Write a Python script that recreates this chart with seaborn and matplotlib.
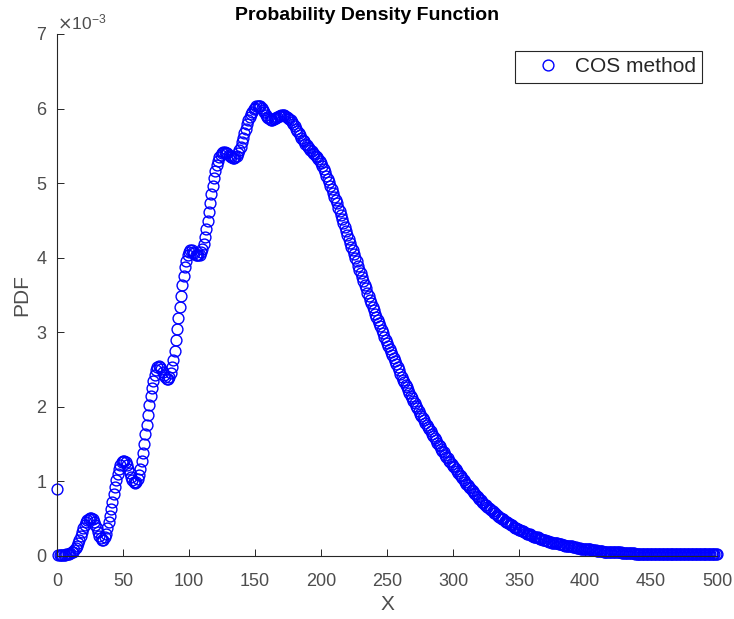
import numpy as np
import seaborn as sns
import matplotlib
matplotlib.use('Agg')
import matplotlib.pyplot as plt
from matplotlib.ticker import ScalarFormatter

# %% Data (PDF values in units of 1e-3, one per x step)

x_vals = np.arange(0, 501)

pdf_e3 = [
    0.90, 0.01, 0.01, 0.01, 0.01, 0.01, 0.01, 0.02, 0.02, 0.03,  # 0
    0.04, 0.05, 0.06, 0.08, 0.11, 0.14, 0.18, 0.22, 0.27, 0.32,  # 10
    0.37, 0.41, 0.45, 0.48, 0.50, 0.51, 0.51, 0.49, 0.46, 0.42,  # 20
    0.37, 0.32, 0.27, 0.24, 0.22, 0.22, 0.25, 0.30, 0.37, 0.45,  # 30
    0.54, 0.63, 0.73, 0.83, 0.93, 1.02, 1.10, 1.17, 1.22, 1.26,  # 40
    1.28, 1.28, 1.26, 1.22, 1.17, 1.11, 1.06, 1.02, 0.99, 0.98,  # 50
    0.99, 1.03, 1.09, 1.17, 1.27, 1.38, 1.50, 1.63, 1.76, 1.89,  # 60
    2.02, 2.14, 2.25, 2.35, 2.43, 2.49, 2.53, 2.55, 2.54, 2.51,  # 70
    2.47, 2.43, 2.40, 2.38, 2.38, 2.40, 2.45, 2.53, 2.63, 2.75,  # 80
    2.89, 3.04, 3.19, 3.34, 3.49, 3.63, 3.76, 3.87, 3.96, 4.03,  # 90
    4.08, 4.10, 4.10, 4.08, 4.06, 4.04, 4.03, 4.03, 4.04, 4.07,  # 100
    4.12, 4.19, 4.28, 4.38, 4.49, 4.61, 4.73, 4.85, 4.96, 5.07,  # 110
    5.16, 5.24, 5.30, 5.35, 5.38, 5.40, 5.42, 5.42, 5.41, 5.40,  # 120
    5.38, 5.36, 5.35, 5.34, 5.34, 5.35, 5.37, 5.40, 5.44, 5.49,  # 130
    5.55, 5.61, 5.67, 5.73, 5.79, 5.84, 5.89, 5.93, 5.96, 5.99,  # 140
    6.01, 6.03, 6.04, 6.04, 6.03, 6.01, 5.98, 5.95, 5.92, 5.89,  # 150
    5.87, 5.86, 5.85, 5.85, 5.86, 5.87, 5.88, 5.89, 5.90, 5.90,  # 160
    5.91, 5.91, 5.91, 5.90, 5.89, 5.88, 5.86, 5.84, 5.82, 5.79,  # 170
    5.76, 5.73, 5.70, 5.67, 5.64, 5.61, 5.58, 5.56, 5.53, 5.51,  # 180
    5.49, 5.47, 5.45, 5.43, 5.41, 5.39, 5.37, 5.35, 5.33, 5.30,  # 190
    5.27, 5.23, 5.19, 5.15, 5.10, 5.06, 5.01, 4.96, 4.92, 4.87,  # 200
    4.82, 4.78, 4.73, 4.67, 4.62, 4.57, 4.52, 4.46, 4.41, 4.36,  # 210
    4.31, 4.25, 4.20, 4.15, 4.10, 4.05, 4.00, 3.95, 3.89, 3.84,  # 220
    3.79, 3.74, 3.69, 3.64, 3.59, 3.53, 3.48, 3.43, 3.39, 3.34,  # 230
    3.30, 3.25, 3.21, 3.16, 3.12, 3.08, 3.03, 2.99, 2.94, 2.90,  # 240
    2.86, 2.82, 2.78, 2.73, 2.69, 2.65, 2.61, 2.57, 2.53, 2.49,  # 250
    2.44, 2.40, 2.36, 2.33, 2.29, 2.26, 2.22, 2.19, 2.15, 2.12,  # 260
    2.08, 2.05, 2.01, 1.98, 1.94, 1.91, 1.88, 1.85, 1.82, 1.79,  # 270
    1.76, 1.73, 1.70, 1.67, 1.64, 1.61, 1.58, 1.55, 1.52, 1.49,  # 280
    1.47, 1.44, 1.41, 1.39, 1.36, 1.33, 1.31, 1.28, 1.26, 1.23,  # 290
    1.21, 1.19, 1.16, 1.14, 1.11, 1.09, 1.07, 1.04, 1.02, 0.99,  # 300
    0.97, 0.95, 0.93, 0.91, 0.89, 0.87, 0.85, 0.83, 0.81, 0.79,  # 310
    0.77, 0.75, 0.73, 0.71, 0.69, 0.68, 0.66, 0.65, 0.63, 0.61,  # 320
    0.60, 0.58, 0.57, 0.55, 0.54, 0.52, 0.51, 0.50, 0.49, 0.47,  # 330
    0.46, 0.45, 0.44, 0.43, 0.42, 0.41, 0.39, 0.38, 0.37, 0.36,  # 340
    0.35, 0.35, 0.34, 0.33, 0.32, 0.31, 0.30, 0.30, 0.29, 0.28,  # 350
    0.27, 0.26, 0.26, 0.25, 0.25, 0.24, 0.23, 0.23, 0.22, 0.21,  # 360
    0.21, 0.20, 0.20, 0.19, 0.19, 0.18, 0.18, 0.18, 0.17, 0.17,  # 370
    0.16, 0.16, 0.16, 0.15, 0.15, 0.14, 0.14, 0.14, 0.13, 0.13,  # 380
    0.13, 0.12, 0.12, 0.12, 0.11, 0.11, 0.11, 0.10, 0.10, 0.10,  # 390
    0.10, 0.09, 0.09, 0.09, 0.09, 0.08, 0.08, 0.08, 0.08, 0.07,  # 400
    0.07, 0.07, 0.07, 0.07, 0.06, 0.06, 0.06, 0.06, 0.06, 0.06,  # 410
    0.05, 0.05, 0.05, 0.05, 0.05, 0.05, 0.05, 0.05, 0.04, 0.04,  # 420
    0.04, 0.04, 0.04, 0.04, 0.04, 0.04, 0.04, 0.04, 0.03, 0.03,  # 430
    0.03, 0.03, 0.03, 0.03, 0.03, 0.03, 0.03, 0.03, 0.03, 0.03,  # 440
    0.03, 0.03, 0.03, 0.03, 0.03, 0.03, 0.03, 0.03, 0.03, 0.03,  # 450
    0.02, 0.02, 0.02, 0.02, 0.02, 0.02, 0.02, 0.02, 0.02, 0.02,  # 460
    0.02, 0.02, 0.02, 0.02, 0.02, 0.02, 0.02, 0.02, 0.02, 0.02,  # 470
    0.02, 0.02, 0.02, 0.02, 0.02, 0.02, 0.02, 0.02, 0.02, 0.02,  # 480
    0.02, 0.02, 0.02, 0.02, 0.02, 0.02, 0.02, 0.02, 0.02, 0.02,  # 490
    0.02,                                                        # 500
]

x_ticks = [0, 50, 100, 150, 200, 250, 300, 350, 400, 450, 500]
y_ticks_e3 = [0, 1, 2, 3, 4, 5, 6, 7]

# %% Plot

sns.set_style('ticks')
plt.rcParams['font.family'] = ['Liberation Sans', 'DejaVu Sans']
plt.rcParams['axes.unicode_minus'] = False

ax_col = '#262626'
lbl_col = '#4d4d4d'

fig = plt.figure(figsize=(7.34, 6.19), dpi=100)
ax = fig.add_axes([0.0777, 0.1018, 0.8992, 0.8433])

ary_pdf = np.array(pdf_e3) * 1e-3
sns.lineplot(x=x_vals, y=ary_pdf, ax=ax, linestyle='', marker='o',
             markersize=7.8, markerfacecolor='none', markeredgecolor='#0000ff',
             markeredgewidth=1.0, label='COS method', clip_on=False)

ax.set_xlim(0, 500)
ax.set_ylim(0, 7e-3)
ax.set_xticks(x_ticks)
ax.set_yticks(np.array(y_ticks_e3) * 1e-3)

fmt = ScalarFormatter(useMathText=True)
fmt.set_powerlimits((-2, 2))
ax.yaxis.set_major_formatter(fmt)
ax.yaxis.get_offset_text().set_fontsize(12.5)
ax.yaxis.get_offset_text().set_color(lbl_col)

sns.despine(ax=ax)
for side in ['left', 'bottom']:
    ax.spines[side].set_color(ax_col)
    ax.spines[side].set_linewidth(0.8)
ax.tick_params(direction='in', length=5, width=0.7, color=ax_col,
               labelcolor=lbl_col, labelsize=13)
ax.tick_params(axis='x', pad=12)
ax.tick_params(axis='y', pad=7)

ax.set_title('Probability Density Function', fontsize=14, fontweight='bold',
             color='black', pad=10, x=0.47)
ax.set_xlabel('X', fontsize=15, color=lbl_col, labelpad=4)
ax.set_ylabel('PDF', fontsize=15, color=lbl_col, labelpad=3)

leg = ax.legend(loc='upper right', bbox_to_anchor=(0.977, 0.967),
                borderaxespad=0, frameon=True, fancybox=False,
                edgecolor=ax_col, framealpha=1, fontsize=15,
                handlelength=2.5, handletextpad=0.05, borderpad=0.3)
leg.get_frame().set_linewidth(0.8)

fig.savefig('out.png', dpi=100)
